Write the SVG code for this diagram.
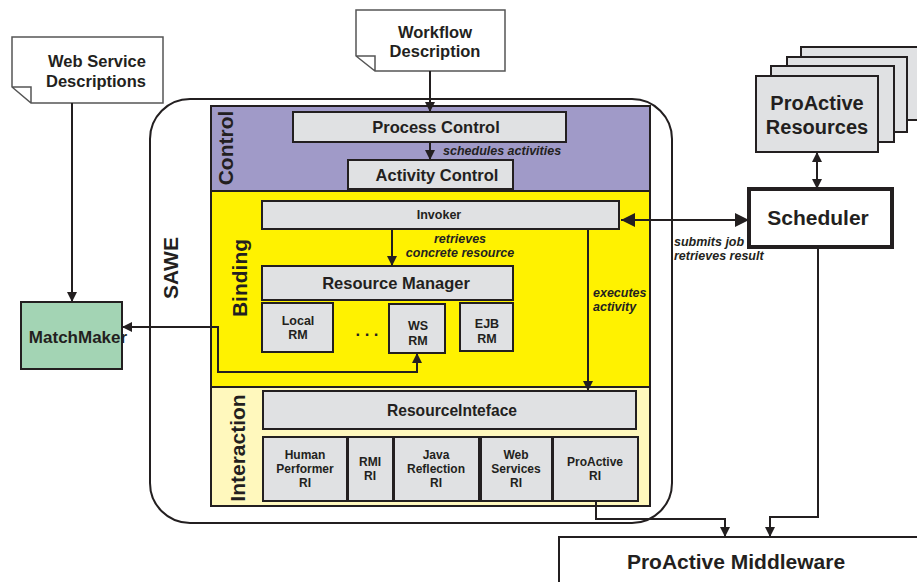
<svg xmlns="http://www.w3.org/2000/svg" width="917" height="582" viewBox="0 0 917 582">
<defs>
<marker id="ah" viewBox="0 0 10 10" refX="10" refY="5" markerWidth="10" markerHeight="10" markerUnits="userSpaceOnUse" orient="auto-start-reverse"><path d="M0,0 L10,5 L0,10 z" fill="#231f20"/></marker>
<marker id="ahb" viewBox="0 0 10 10" refX="10" refY="5" markerWidth="14" markerHeight="14" markerUnits="userSpaceOnUse" orient="auto-start-reverse"><path d="M0,0 L10,5 L0,10 z" fill="#231f20"/></marker>
<style>
text{font-family:"Liberation Sans",Arial,sans-serif;font-weight:bold;fill:#231f20;text-anchor:middle}
.box{fill:#e0e1e3;stroke:#231f20;stroke-width:2}
.doc{fill:#fff;stroke:#555;stroke-width:1.5}
.ln{fill:none;stroke:#231f20;stroke-width:2}
.it{font-style:italic;font-size:12.5px}
.sm{font-size:12.5px}
.ri{font-size:12px}
.md{font-size:16.5px}
.lg{font-size:21px}
</style>
</defs>
<g id="sawe">
<rect x="150" y="99" width="522" height="424" rx="40" fill="#fff" stroke="#231f20" stroke-width="2"/>
<text x="0" y="0" class="lg" transform="translate(178,268) rotate(-90)">SAWE</text>
</g>
<g id="layers">
<rect x="211" y="106" width="439" height="85" fill="#a09ac8" stroke="#231f20" stroke-width="2"/>
<rect x="211" y="191" width="439" height="196" fill="#fff200" stroke="#231f20" stroke-width="2"/>
<rect x="211" y="387" width="439" height="119" fill="#fff8bd" stroke="#231f20" stroke-width="2"/>
<text transform="translate(233,148) rotate(-90)" class="lg">Control</text>
<text transform="translate(247,278) rotate(-90)" class="lg">Binding</text>
<text transform="translate(245,448) rotate(-90)" class="lg">Interaction</text>
</g>
<g id="web-service-descriptions">
<path class="doc" d="M12,37 H163 V103 H31 L12,87 Z M12,87 H31 V103"/>
<text x="97" y="67" class="md">Web Service</text>
<text x="96" y="87" class="md">Descriptions</text>
</g>
<g id="workflow-description">
<path class="doc" d="M356,10 H505 V71 H375 L356,56 Z M356,56 H375 V71"/>
<text x="435" y="38" class="md">Workflow</text>
<text x="435" y="57" class="md">Description</text>
</g>
<g id="process-control"><rect class="box" x="293" y="112" width="273" height="30"/><text x="436" y="133" class="md">Process Control</text></g>
<g id="activity-control"><rect class="box" x="348" y="160" width="165" height="29"/><text x="437" y="181" class="md">Activity Control</text></g>
<g id="invoker"><rect class="box" x="262" y="201" width="357" height="28" stroke-width="4"/><text x="439" y="219" class="sm">Invoker</text></g>
<g id="resource-manager"><rect class="box" x="262" y="266" width="251" height="34"/><text x="396" y="289" class="md">Resource Manager</text></g>
<g id="local-rm"><rect class="box" x="262" y="303" width="71" height="49"/><text x="298" y="325" class="sm">Local</text><text x="298" y="339" class="sm">RM</text></g>
<g id="dots"><text x="367" y="336" class="md">. . .</text></g>
<g id="ws-rm"><rect class="box" x="389" y="304" width="56" height="49"/><text x="418" y="330" class="sm">WS</text><text x="418" y="345" class="sm">RM</text></g>
<g id="ejb-rm"><rect class="box" x="460" y="303" width="53" height="48"/><text x="487" y="328" class="sm">EJB</text><text x="487" y="343" class="sm">RM</text></g>
<g id="resource-interface"><rect class="box" x="263" y="391" width="373" height="38"/><text x="452" y="416" class="md" textLength="130" lengthAdjust="spacingAndGlyphs">ResourceInteface</text></g>
<g id="human-performer-ri"><rect class="box" x="263" y="437" width="84" height="64"/><text x="305" y="459" class="ri">Human</text><text x="305" y="473" class="ri">Performer</text><text x="305" y="487" class="ri">RI</text></g>
<g id="rmi-ri"><rect class="box" x="348" y="437" width="45" height="64"/><text x="370" y="466" class="ri">RMI</text><text x="370" y="480" class="ri">RI</text></g>
<g id="java-reflection-ri"><rect class="box" x="394" y="437" width="85" height="64"/><text x="436" y="459" class="ri">Java</text><text x="436" y="473" class="ri">Reflection</text><text x="436" y="487" class="ri">RI</text></g>
<g id="web-services-ri"><rect class="box" x="481" y="437" width="71" height="64"/><text x="516" y="459" class="ri">Web</text><text x="516" y="473" class="ri">Services</text><text x="516" y="487" class="ri">RI</text></g>
<g id="proactive-ri"><rect class="box" x="553" y="437" width="85" height="64"/><text x="595" y="466" class="ri">ProActive</text><text x="595" y="480" class="ri">RI</text></g>
<g id="matchmaker"><rect x="21" y="302" width="101" height="67" fill="#a3d4b4" stroke="#231f20" stroke-width="2"/><text x="78" y="343" style="font-size:17px">MatchMaker</text></g>
<g id="proactive-resources">
<rect x="801" y="47" width="130" height="73" fill="#e0e1e3" stroke="#231f20" stroke-width="2"/>
<rect x="787" y="57" width="120" height="75" fill="#e0e1e3" stroke="#231f20" stroke-width="2"/>
<rect x="771" y="66" width="123" height="76" fill="#e0e1e3" stroke="#231f20" stroke-width="2"/>
<rect x="756" y="76" width="122" height="76" fill="#e0e1e3" stroke="#231f20" stroke-width="2"/>
<text x="817" y="110" style="font-size:20px">ProActive</text>
<text x="817" y="134" style="font-size:20px">Resources</text>
</g>
<g id="scheduler"><rect x="749" y="189" width="143" height="58" fill="#fff" stroke="#231f20" stroke-width="4"/><text x="818" y="225" class="lg">Scheduler</text></g>
<g id="proactive-middleware"><rect x="559" y="537" width="370" height="60" fill="#fff" stroke="#231f20" stroke-width="2"/><text x="736" y="569" class="lg">ProActive Middleware</text></g>
<g id="connectors">
<path class="ln" d="M72,103 V302" marker-end="url(#ah)"/>
<path class="ln" d="M430,71 V112" marker-end="url(#ah)"/>
<path class="ln" d="M430,142 V160" marker-end="url(#ah)"/>
<path class="ln" d="M392,230 V266" marker-end="url(#ah)"/>
<path class="ln" d="M588,230 V391" marker-end="url(#ah)"/>
<path class="ln" d="M122,327 H218 V372 H417 V353" marker-start="url(#ah)" marker-end="url(#ah)"/>
<path class="ln" d="M621,220 H749" stroke-width="4" marker-start="url(#ahb)" marker-end="url(#ahb)"/>
<path class="ln" d="M817,152 V189" marker-start="url(#ah)" marker-end="url(#ah)"/>
<path class="ln" d="M818,247 V517 H770 V537" marker-end="url(#ah)"/>
<path class="ln" d="M596,501 V519 H725 V537" marker-end="url(#ah)"/>
<text x="443" y="155" class="it" style="text-anchor:start">schedules activities</text>
<text x="460" y="243" class="it">retrieves</text>
<text x="460" y="257" class="it">concrete resource</text>
<text x="593" y="297" class="it" style="text-anchor:start">executes</text>
<text x="593" y="311" class="it" style="text-anchor:start">activity</text>
<text x="674" y="246" class="it" style="text-anchor:start">submits job</text>
<text x="674" y="260" class="it" style="text-anchor:start">retrieves result</text>
</g>
</svg>
